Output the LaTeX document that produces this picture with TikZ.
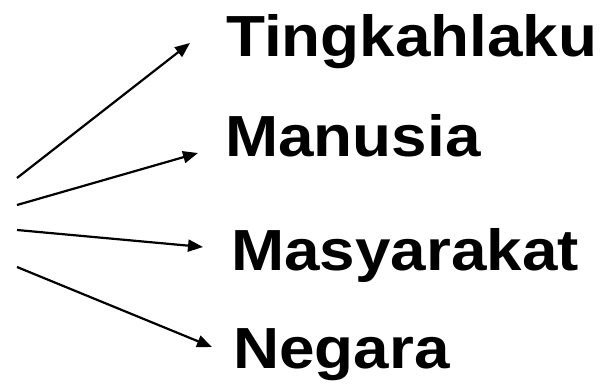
\documentclass[tikz,border=0pt]{standalone}
\usepackage{fontspec}
\setmainfont{Liberation Sans}
\usetikzlibrary{arrows.meta}
\begin{document}
\begin{tikzpicture}[x=1pt,y=-1pt,
  word/.style={anchor=base west,inner sep=0pt,font=\bfseries\fontsize{58}{60}\selectfont,xscale=1.1,transform shape},
  arr/.style={line width=2.2pt,-{Triangle[length=15pt,width=12pt]}}]
\useasboundingbox (0,0) rectangle (600,385);
\node[word] (t1) at (226,57) {Tingkahlaku};
\node[word] (t2) at (225,157) {Manusia};
\node[word] (t3) at (231,270) {Masyarakat};
\node[word] (t4) at (233,368) {Negara};
\coordinate (s1) at (17,178);
\coordinate (s2) at (17,205);
\coordinate (s3) at (17,230);
\coordinate (s4) at (17,267);
\coordinate (e1) at (190,43);
\coordinate (e2) at (198,153);
\coordinate (e3) at (203,247);
\coordinate (e4) at (212,347);
\draw[arr] (s1) -- (e1);
\draw[arr] (s2) -- (e2);
\draw[arr] (s3) -- (e3);
\draw[arr] (s4) -- (e4);
\end{tikzpicture}
\end{document}
